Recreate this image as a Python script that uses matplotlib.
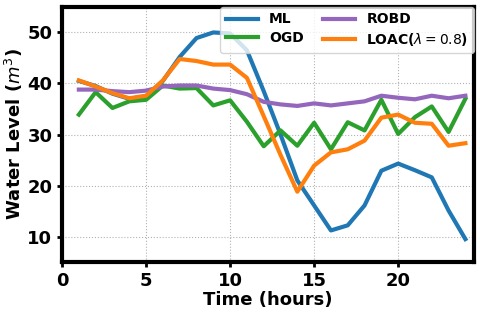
import numpy as np
import matplotlib.pyplot as plt

hours = list(range(1, 25))
ml = [40.5, 39.5, 38.0, 37.0, 37.5, 40.5, 45.2, 48.9, 50.0, 49.8, 46.5, 38.5,
      30.0, 21.0, 16.1, 11.2, 12.2, 16.1, 22.9, 24.3, 23.0, 21.6, 15.1, 9.5]
ogd = [33.9, 38.3, 35.2, 36.5, 36.8, 39.6, 39.0, 39.1, 35.7, 36.7, 32.5, 27.7,
       30.8, 27.8, 32.3, 27.1, 32.4, 30.8, 36.8, 30.1, 33.4, 35.5, 30.5, 37.0]
robd = [38.8, 38.8, 38.5, 38.3, 38.6, 39.4, 39.6, 39.6, 39.0, 38.7, 37.9, 36.4,
        35.9, 35.6, 36.1, 35.7, 36.1, 36.5, 37.6, 37.2, 36.9, 37.6, 37.1, 37.6]
loac = [40.6, 39.4, 38.1, 37.1, 37.6, 40.6, 44.8, 44.4, 43.7, 43.7, 41.1, 33.6,
        26.0, 18.8, 23.9, 26.5, 27.1, 28.8, 33.3, 33.9, 32.3, 32.1, 27.8, 28.3]

fig, ax = plt.subplots(figsize=(4.81, 3.15), dpi=100)
fig.subplots_adjust(left=0.129, right=0.985, bottom=0.168, top=0.978)

ax.plot(hours, ml, color='tab:blue', lw=3, label='ML')
ax.plot(hours, ogd, color='tab:green', lw=3, label='OGD')
ax.plot(hours, robd, color='tab:purple', lw=3, label='ROBD')
ax.plot(hours, loac, color='tab:orange', lw=3, label=r'LOAC($\lambda=0.8$)')

ax.set_xlim(0, 24.5)
ax.set_ylim(5, 55)
ax.set_xticks([0, 5, 10, 15, 20])
ax.set_yticks([10, 20, 30, 40, 50])
ax.tick_params(labelsize=13, width=2)
for lbl in ax.get_xticklabels() + ax.get_yticklabels():
    lbl.set_fontweight('bold')
ax.set_xlabel('Time (hours)', fontsize=13, fontweight='bold', labelpad=1)
ax.set_ylabel(r'Water Level ($m^3$)', fontsize=13, fontweight='bold', labelpad=2)
ax.grid(True, linestyle=':', color='gray', alpha=0.6)
for sp in ax.spines.values():
    sp.set_linewidth(3)

ax.legend(ncol=2, loc='upper right', prop={'size': 10, 'weight': 'bold'},
          borderaxespad=0.0, handlelength=2.3, columnspacing=1.4,
          labelspacing=0.3)

plt.savefig('out.png')
